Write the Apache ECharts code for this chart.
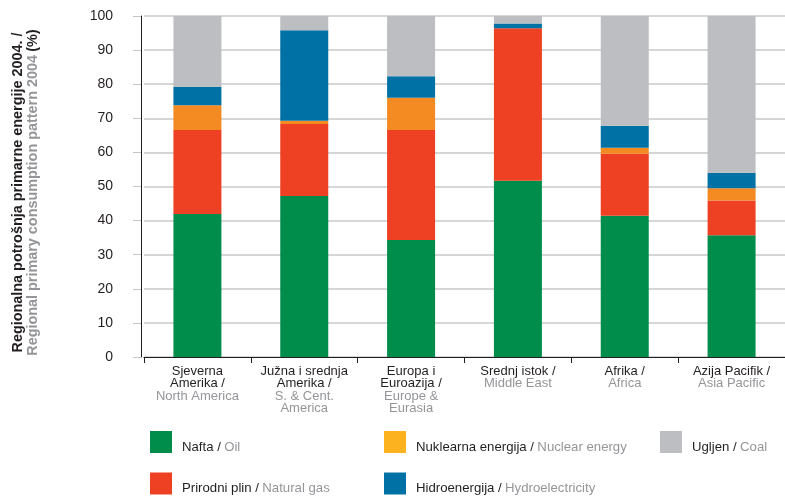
<!DOCTYPE html>
<html>
<head>
<meta charset="utf-8">
<script src="https://cdn.jsdelivr.net/npm/echarts@6/dist/echarts.min.js"></script>
<style>
  html, body { margin: 0; padding: 0; background: #fff; }
  #chart { width: 785px; height: 499px; }
</style>
</head>
<body>
<div id="chart"></div>
<script>
// Regions (local name / English name)
const regionLocal = ['Sjeverna\nAmerika /', 'Južna i srednja\nAmerika /', 'Europa i\nEuroazija /', 'Srednj istok /', 'Afrika /', 'Azija Pacifik /'];
const regionEnglish = ['North America', 'S. & Cent.\nAmerica', 'Europe &\nEurasia', 'Middle East', 'Africa', 'Asia Pacific'];

// Share of primary energy consumption, 2004 (%)
const oil      = [41.9, 47.2, 34.3, 51.7, 41.4, 35.7];
const gas      = [24.7, 21.1, 32.3, 44.7, 18.2, 10.2];
const nuclear  = [7.2, 1.0, 9.4, 0, 1.8, 3.6];
const hydro    = [5.4, 26.5, 6.3, 1.4, 6.4, 4.5];
const coal     = [20.8, 4.2, 17.7, 2.2, 32.2, 46.0];

const seriesNames = ['Nafta / Oil', 'Prirodni plin / Natural gas', 'Nuklearna energija / Nuclear energy', 'Hidroenergija / Hydroelectricity', 'Ugljen / Coal'];
const yTicks = [0, 10, 20, 30, 40, 50, 60, 70, 80, 90, 100];

const BLACK = '#231f20';
const GREY = '#939598';
const FONT = '"Liberation Sans", Arial, Helvetica, sans-serif';
const colors = ['#008d4c', '#ee4123', '#f38a22', '#0071a4', '#bcbec1'];
const legendSwatch = ['#008d4c', '#ee4123', '#fcb11f', '#0071a4', '#bcbec1'];

const categories = regionLocal.map((l, i) => l + ' ' + regionEnglish[i]);
const values = [oil, gas, nuclear, hydro, coal];

const chart = echarts.init(document.getElementById('chart'), null, { renderer: 'canvas' });

function legendLabel(name) {
  const parts = name.split(' / ');
  return '{a|' + parts[0] + ' /} {b|' + parts[1] + '}';
}

function makeLegend(idxList, left, top) {
  return {
    left: left, top: top, padding: 0,
    orient: 'vertical',
    itemWidth: 22, itemHeight: 22, itemGap: 19,
    icon: 'rect',
    selectedMode: false,
    formatter: legendLabel,
    textStyle: {
      padding: [10, 0, 0, 5],
      rich: {
        a: { fontFamily: FONT, fontSize: 13.2, color: BLACK },
        b: { fontFamily: FONT, fontSize: 13.2, color: GREY }
      }
    },
    data: idxList.map(i => ({ name: seriesNames[i], itemStyle: { color: legendSwatch[i] } }))
  };
}

const option = {
  animation: false,
  backgroundColor: '#ffffff',
  textStyle: { fontFamily: FONT },
  grid: { left: 144, right: -7, top: 16, bottom: 142, containLabel: false },
  legend: [
    makeLegend([0, 1], 150, 431),
    makeLegend([2, 3], 384, 431),
    makeLegend([4], 660, 431)
  ],
  xAxis: {
    type: 'category',
    data: categories,
    boundaryGap: true,
    axisLine: { lineStyle: { color: BLACK, width: 1 } },
    axisTick: { show: true, length: 6, lineStyle: { color: BLACK }, alignWithLabel: false },
    axisLabel: {
      margin: 8,
      interval: 0,
      lineHeight: 12.5,
      formatter: function (value, idx) {
        const a = regionLocal[idx].split('\n').map(s => '{a|' + s + '}');
        const b = regionEnglish[idx].split('\n').map(s => '{b|' + s + '}');
        return a.concat(b).join('\n');
      },
      rich: {
        a: { fontFamily: FONT, fontSize: 13, color: BLACK, lineHeight: 12.5 },
        b: { fontFamily: FONT, fontSize: 13, color: GREY, lineHeight: 12.5 }
      }
    }
  },
  yAxis: {
    type: 'value',
    min: yTicks[0], max: yTicks[yTicks.length - 1], interval: 10,
    offset: 3,
    axisLine: { show: true, lineStyle: { color: BLACK, width: 1 } },
    axisTick: { show: true, inside: false, length: 8, lineStyle: { color: '#c6c6c6' } },
    axisLabel: { margin: 28, fontSize: 14, color: BLACK, fontFamily: FONT },
    splitLine: { show: true, lineStyle: { color: '#c9c9c9', width: 1.5 } },
    name: '{t|Regionalna potrošnja primarne energije 2004. /}\n{g|Regional primary consumption pattern 2004} {t|(%)}',
    nameLocation: 'middle',
    nameRotate: 90,
    nameGap: 100,
    nameTextStyle: {
      lineHeight: 15,
      padding: [0, 12, 0, 0],
      rich: {
        t: { fontFamily: FONT, fontSize: 14.4, fontWeight: 'bold', color: BLACK, lineHeight: 15 },
        g: { fontFamily: FONT, fontSize: 14.4, fontWeight: 'bold', color: GREY, lineHeight: 15 }
      }
    }
  },
  series: values.map((v, i) => ({
    name: seriesNames[i],
    type: 'bar',
    stack: 'total',
    barWidth: 48,
    data: v,
    itemStyle: { color: colors[i] },
    emphasis: { disabled: true }
  }))
};

chart.setOption(option);
</script>
</body>
</html>
